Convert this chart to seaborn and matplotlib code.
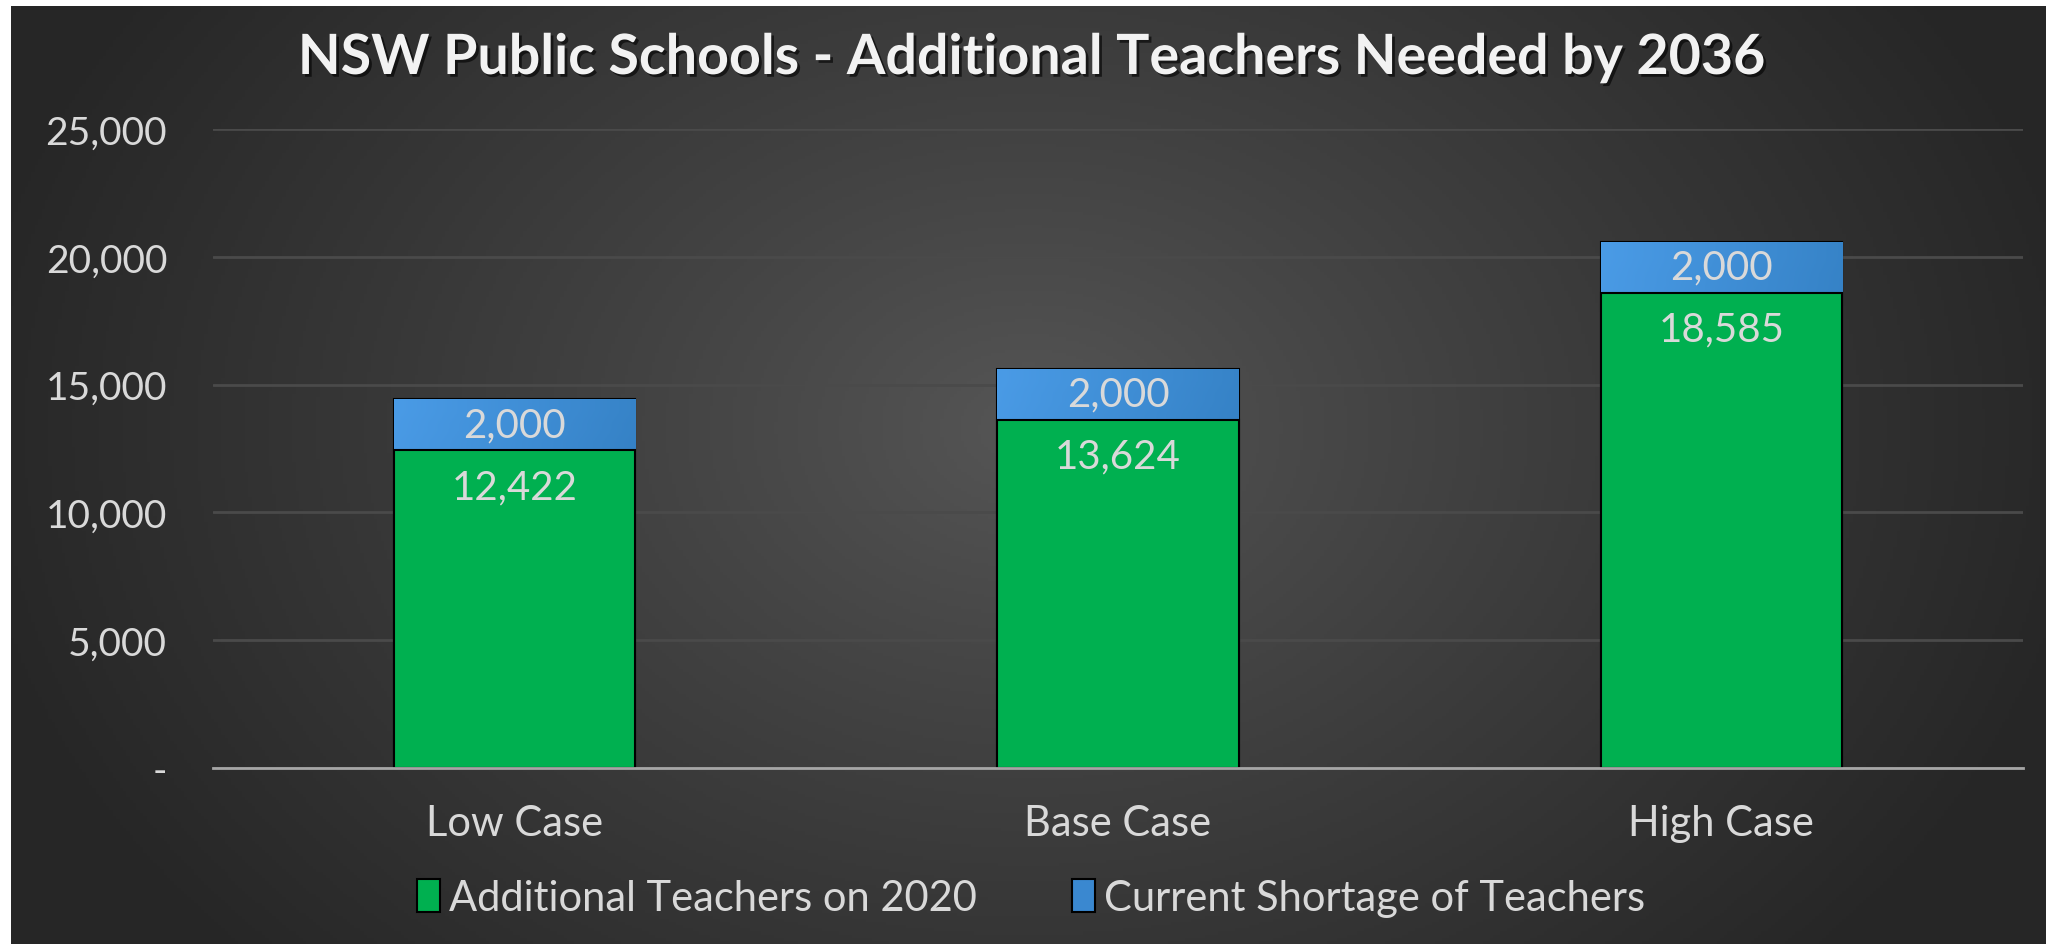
import numpy as np
import pandas as pd
import matplotlib
matplotlib.use("Agg")
import matplotlib.pyplot as plt
import matplotlib.patheffects as pe
from matplotlib.patches import Patch
import seaborn as sns

# === Data ===
cases = ["Low Case", "Base Case", "High Case"]
additional = [12422, 13624, 18585]
shortage = [2000, 2000, 2000]
y_ticks = [0, 5000, 10000, 15000, 20000, 25000]
y_tick_labels = ["-", "5,000", "10,000", "15,000", "20,000", "25,000"]

GREEN = "#00B050"
BLUE = "#3A88D0"
TEXT = "#D9D9D9"
FONT = ["Lato", "DejaVu Sans"]

df = pd.DataFrame({"case": cases, "additional": additional, "shortage": shortage})
df["total"] = df["additional"] + df["shortage"]

sns.set_theme(style="dark")
plt.rcParams["font.family"] = FONT

fig = plt.figure(figsize=(20.46, 9.45), dpi=100)
fig.patch.set_facecolor("white")

# === Background with radial gradient ===
bg = fig.add_axes([11 / 2046, 0, 1 - 11 / 2046, 1 - 7 / 945])
bg.set_axis_off()
yy, xx = np.mgrid[0:1:300j, 0:1:600j]
r = np.sqrt(((xx - 0.5) * 1.6) ** 2 + ((yy - 0.45) * 1.0) ** 2)
r = np.clip(r / 0.85, 0, 1)
inner = np.array([0x56, 0x56, 0x56]) / 255
outer = np.array([0x26, 0x26, 0x26]) / 255
img = inner + (outer - inner) * r[..., None] ** 0.9
bg.imshow(img, aspect="auto", extent=[0, 1, 0, 1], origin="upper")

# === Main axes ===
ax = fig.add_axes([213 / 2046, 176 / 945, (2023 - 213) / 2046, (769 - 130) / 945])
ax.patch.set_alpha(0)

sns.barplot(data=df, x="case", y="total", color=BLUE, width=0.4,
            edgecolor="black", linewidth=1.5, saturation=1, ax=ax, zorder=3)
blue_bars = list(ax.patches)
sns.barplot(data=df, x="case", y="additional", color=GREEN, width=0.4,
            edgecolor="black", linewidth=1.5, saturation=1, ax=ax, zorder=4)
green_bars = ax.patches[len(blue_bars):]

# gradient fill for the shortage segments
grad = np.linspace(0, 1, 100)[None, :] * 0.6 + np.linspace(0, 1, 20)[:, None] * 0.4
cmap = matplotlib.colors.LinearSegmentedColormap.from_list("b", ["#4A9BE6", "#2A74B4"])
for p in blue_bars:
    x0, y0 = p.get_x(), p.get_y()
    w, h = p.get_width(), p.get_height()
    im = ax.imshow(grad, cmap=cmap, aspect="auto", origin="upper",
                   extent=[x0, x0 + w, y0, y0 + h], zorder=3.5)
    im.set_clip_path(p)

# === Labels ===
for i, p in enumerate(green_bars):
    cx = p.get_x() + p.get_width() / 2
    top = p.get_height()
    ax.annotate(f"{additional[i]:,}", (cx, top), xytext=(0, -26),
                textcoords="offset points", ha="center", va="center",
                color=TEXT, fontsize=29, zorder=6)
    ax.text(cx, top + shortage[i] / 2, f"{shortage[i]:,}", ha="center",
            va="center", color=TEXT, fontsize=29, zorder=6)

ax.set_ylim(0, 25000)
ax.set_xlim(-0.5, 2.5)
ax.set_yticks(y_ticks)
ax.set_yticklabels(y_tick_labels)
ax.yaxis.grid(True, color="#4A4A4A", linewidth=2, zorder=0)
ax.xaxis.grid(False)
ax.set_axisbelow(True)
for s in ["top", "right", "left"]:
    ax.spines[s].set_visible(False)
ax.spines["bottom"].set_color("#A6A6A6")
ax.spines["bottom"].set_linewidth(2)
ax.spines["bottom"].set_zorder(5)
ax.tick_params(axis="y", colors=TEXT, labelsize=28, length=0, pad=33)
ax.tick_params(axis="x", colors=TEXT, labelsize=30, length=0, pad=26)
for t in ax.get_yticklabels():
    t.set_color(TEXT)
for t in ax.get_xticklabels():
    t.set_color(TEXT)
ax.set_xlabel("")
ax.set_ylabel("")

# === Title ===
fig.text(1031 / 2046, 1 - 59 / 945, "NSW Public Schools - Additional Teachers Needed by 2036",
         ha="center", va="center", color="#F2F2F2", fontsize=40, fontweight="bold",
         family=FONT,
         path_effects=[pe.withSimplePatchShadow(offset=(2, -2), shadow_rgbFace="black", alpha=0.6)])

# === Legend ===
handles = [Patch(facecolor=GREEN, edgecolor="black", linewidth=1.5, label="Additional Teachers on 2020"),
           Patch(facecolor=BLUE, edgecolor="black", linewidth=1.5, label="Current Shortage of Teachers")]
leg = fig.legend(handles=handles, loc="center", bbox_to_anchor=(1031 / 2046, 1 - 899 / 945),
                 ncol=2, frameon=False, fontsize=30, handlelength=0.55, handleheight=0.85,
                 handletextpad=0.2, columnspacing=2.3)
for t in leg.get_texts():
    t.set_color(TEXT)

fig.savefig("out.png", dpi=100, facecolor=fig.get_facecolor())
